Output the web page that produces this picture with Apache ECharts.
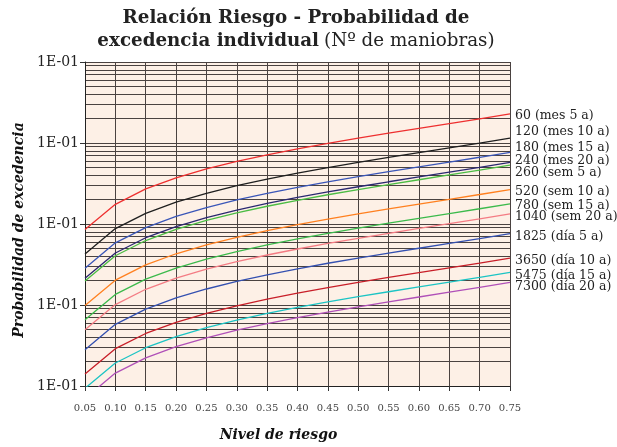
<!DOCTYPE html>
<html><head><meta charset="utf-8">
<script src="https://cdn.jsdelivr.net/npm/echarts@6/dist/echarts.min.js"></script>
<style>html,body{margin:0;padding:0;background:#fff}#c{width:617px;height:447px}</style>
</head><body><div id="c"></div>
<script>
const riskLevels = [0.05,0.10,0.15,0.20,0.25,0.30,0.35,0.40,0.45,0.50,0.55,0.60,0.65,0.70,0.75];
const seriesNames = ['60 (mes 5 a)','120 (mes 10 a)','180 (mes 15 a)','240 (mes 20 a)','260 (sem 5 a)','520 (sem 10 a)','780 (sem 15 a)','1040 (sem 20 a)','1825 (día 5 a)','3650 (día 10 a)','5475 (día 15 a)','7300 (día 20 a)'];
const n60   = [8.55e-4,1.75e-3,2.71e-3,3.71e-3,4.78e-3,5.93e-3,7.15e-3,8.48e-3,9.91e-3,1.149e-2,1.322e-2,1.516e-2,1.735e-2,1.987e-2,2.284e-2];
const n120  = [4.274e-4,8.776e-4,1.353e-3,1.858e-3,2.395e-3,2.968e-3,3.583e-3,4.248e-3,4.970e-3,5.760e-3,6.632e-3,7.607e-3,8.710e-3,9.983e-3,1.149e-2];
const n180  = [2.849e-4,5.852e-4,9.025e-4,1.239e-3,1.597e-3,1.980e-3,2.390e-3,2.834e-3,3.316e-3,3.843e-3,4.426e-3,5.078e-3,5.815e-3,6.666e-3,7.672e-3];
const n240  = [2.137e-4,4.389e-4,6.769e-4,9.293e-4,1.198e-3,1.485e-3,1.793e-3,2.126e-3,2.488e-3,2.884e-3,3.322e-3,3.811e-3,4.365e-3,5.004e-3,5.760e-3];
const n260  = [1.973e-4,4.051e-4,6.249e-4,8.579e-4,1.106e-3,1.371e-3,1.656e-3,1.963e-3,2.297e-3,2.662e-3,3.067e-3,3.518e-3,4.030e-3,4.620e-3,5.318e-3];
const n520  = [9.864e-5,2.026e-4,3.125e-4,4.291e-4,5.532e-4,6.859e-4,8.283e-4,9.819e-4,1.149e-3,1.332e-3,1.534e-3,1.761e-3,2.017e-3,2.313e-3,2.662e-3];
const n780  = [6.576e-5,1.351e-4,2.084e-4,2.861e-4,3.688e-4,4.573e-4,5.523e-4,6.547e-4,7.662e-4,8.883e-4,1.023e-3,1.174e-3,1.345e-3,1.542e-3,1.776e-3];
const n1040 = [4.932e-5,1.013e-4,1.563e-4,2.146e-4,2.766e-4,3.430e-4,4.142e-4,4.912e-4,5.748e-4,6.663e-4,7.675e-4,8.807e-4,1.009e-3,1.157e-3,1.332e-3];
const n1825 = [2.811e-5,5.773e-5,8.905e-5,1.223e-4,1.576e-4,1.954e-4,2.360e-4,2.799e-4,3.276e-4,3.797e-4,4.374e-4,5.020e-4,5.751e-4,6.595e-4,7.593e-4];
const n3650 = [1.405e-5,2.887e-5,4.453e-5,6.114e-5,7.882e-5,9.772e-5,1.180e-4,1.400e-4,1.638e-4,1.899e-4,2.188e-4,2.510e-4,2.876e-4,3.298e-4,3.797e-4];
const n5475 = [9.369e-6,1.924e-5,2.968e-5,4.076e-5,5.255e-5,6.515e-5,7.868e-5,9.330e-5,1.092e-4,1.266e-4,1.458e-4,1.674e-4,1.917e-4,2.199e-4,2.532e-4];
const n7300 = [7.027e-6,1.443e-5,2.226e-5,3.057e-5,3.941e-5,4.886e-5,5.901e-5,6.998e-5,8.190e-5,9.495e-5,1.094e-4,1.255e-4,1.438e-4,1.649e-4,1.899e-4];
const yTickLabel = '1E-01';

const allValues = [n60,n120,n180,n240,n260,n520,n780,n1040,n1825,n3650,n5475,n7300];
const colors = ['#ee3030','#1e1e1e','#3a56b8','#2a2870','#4cbc44','#ff8020','#3cba4c','#f47c84','#3450b0','#c81e28','#1cc4c4','#b050b8'];
// vertical nudges (px) of the end labels, to keep them apart as in the reference
const labelNudge = [2,-6,-5,-2,8,2,2,3,3,3,3,4];

const chart = echarts.init(document.getElementById('c'), null, {renderer:'canvas'});
const serif = '"DejaVu Serif", "Liberation Serif", serif';
const gridColor = '#4a4240';
chart.setOption({
  backgroundColor: '#ffffff',
  animation: false,
  title: {
    left: 296, top: 7, padding: 0, textAlign: 'center',
    text: '{b|Relación Riesgo - Probabilidad de}\n{b|excedencia individual} {n|(Nº de maniobras)}',
    textStyle: {
      rich: {
        b: {fontFamily: serif, fontWeight: 'bold', fontSize: 18.3, color: '#222', lineHeight: 23},
        n: {fontFamily: serif, fontWeight: 'normal', fontSize: 18.3, color: '#222', lineHeight: 23}
      }
    }
  },
  grid: {left: 85, right: 107, top: 62, bottom: 58, show: true, backgroundColor: '#fdf0e6', borderWidth: 0},
  xAxis: {
    type: 'value', min: 0.05, max: 0.75, interval: 0.05,
    name: 'Nivel de riesgo', nameLocation: 'middle', nameGap: 42,
    nameTextStyle: {fontFamily: serif, fontWeight: 'bold', fontStyle: 'italic', fontSize: 14, color: '#111', padding: [0, 38, 0, 0]},
    axisLine: {show: true, onZero: false, lineStyle: {color: '#222', width: 1}},
    axisTick: {show: true, inside: false, length: 5, lineStyle: {color: '#333'}},
    axisLabel: {fontFamily: serif, fontSize: 10, color: '#444', margin: 17, formatter: v => v.toFixed(2)},
    splitLine: {show: true, lineStyle: {color: gridColor, width: 1}}
  },
  yAxis: {
    type: 'log', logBase: 10, min: 1e-5, max: 0.1,
    name: 'Probabilidad de excedencia', nameLocation: 'middle', nameGap: 55, nameRotate: 90,
    nameTextStyle: {fontFamily: serif, fontWeight: 'bold', fontStyle: 'italic', fontSize: 14, color: '#111', padding: [0, 12, 0, 0]},
    axisLine: {show: true, lineStyle: {color: '#222', width: 1}},
    axisTick: {show: true, inside: false, length: 5, lineStyle: {color: '#333'}},
    axisLabel: {fontFamily: serif, fontSize: 14, color: '#222', margin: 6, formatter: () => yTickLabel},
    splitLine: {show: true, lineStyle: {color: gridColor, width: 1}},
    minorTick: {show: false, splitNumber: 9},
    minorSplitLine: {show: true, lineStyle: {color: gridColor, width: 1}}
  },
  series: allValues.map((vals, i) => ({
    name: seriesNames[i],
    type: 'line',
    data: riskLevels.map((r, j) => [r, vals[j]]),
    showSymbol: false, symbol: 'none',
    clip: true,
    lineStyle: {color: colors[i], width: 1.3},
    itemStyle: {color: colors[i]},
    endLabel: {show: true, formatter: p => p.seriesName, fontFamily: serif, fontSize: 12.5, color: '#222', distance: 5, offset: [0, labelNudge[i]]}
  }))
});
</script></body></html>
